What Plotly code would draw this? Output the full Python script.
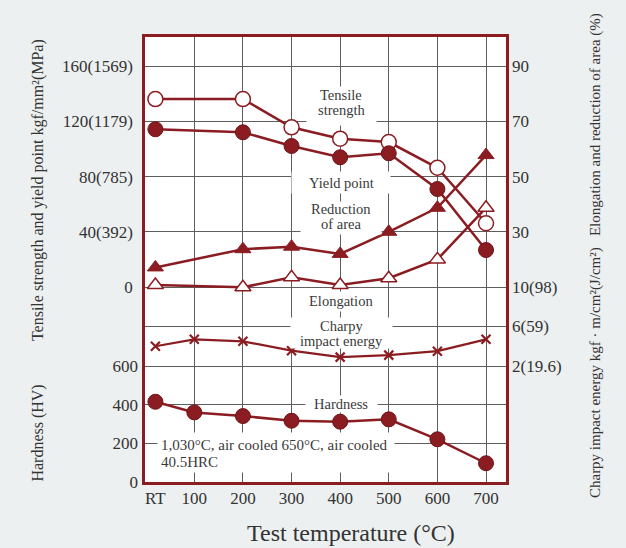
import plotly.graph_objects as go

# ---------------- data ----------------
temps_tensile = [20, 200, 300, 400, 500, 600, 700]          # RT = 20 C
temps_all = [20, 100, 200, 300, 400, 500, 600, 700]
temp_grid = [100, 200, 300, 400, 500, 600, 700]
temp_labels = ["RT", "100", "200", "300", "400", "500", "600", "700"]

tensile_strength = [136.2, 136.2, 115.7, 107.5, 105.0, 86.4, 46.2]   # kgf/mm2
yield_point = [114.3, 112.1, 102.2, 94.0, 96.9, 71.0, 26.8]         # kgf/mm2
reduction_of_area = [17.1, 23.7, 24.6, 22.0, 30.0, 38.7, 57.8]      # %
elongation = [10.7, 9.9, 13.5, 10.7, 13.2, 20.0, 38.7]              # %
charpy = [4.0, 4.7, 4.5, 3.55, 2.9, 3.1, 3.5, 4.7]                  # kgf*m/cm2
hardness = [415, 360, 341, 317, 312, 324, 221, 97]                  # HV

strength_ticks = [0, 40, 80, 120, 160]
strength_ticktext = ["0", "40(392)", "80(785)", "120(1179)", "160(1569)"]
pct_ticks = [30, 50, 70, 90]
hv_ticks = [0, 200, 400, 600]
charpy_ticks = [2, 6, 10]
charpy_ticktext = ["2(19.6)", "6(59)", "10(98)"]

# ---------------- styling ----------------
RED = "#8b1d22"
GRID = "#5e5e5e"
TXT = "#333333"
FONT = "Liberation Serif"

fig = go.Figure()

line_style = dict(color=RED, width=2.5)

fig.add_trace(go.Scatter(x=temps_tensile, y=tensile_strength, xaxis="x", yaxis="y",
                         mode="lines+markers", line=line_style,
                         marker=dict(symbol="circle", size=15, color="white",
                                     line=dict(color=RED, width=1.5)),
                         showlegend=False))
fig.add_trace(go.Scatter(x=temps_tensile, y=yield_point, xaxis="x", yaxis="y",
                         mode="lines+markers", line=line_style,
                         marker=dict(symbol="circle", size=15, color=RED,
                                     line=dict(color="#6e1418", width=1)),
                         showlegend=False))
fig.add_trace(go.Scatter(x=temps_tensile, y=reduction_of_area, xaxis="x", yaxis="y2",
                         mode="lines+markers", line=line_style,
                         marker=dict(symbol="triangle-up", size=14, color=RED,
                                     line=dict(color=RED, width=1)),
                         showlegend=False))
fig.add_trace(go.Scatter(x=temps_tensile, y=elongation, xaxis="x", yaxis="y2",
                         mode="lines+markers", line=line_style,
                         marker=dict(symbol="triangle-up", size=14, color="white",
                                     line=dict(color=RED, width=1.5)),
                         showlegend=False))
fig.add_trace(go.Scatter(x=temps_all, y=charpy, xaxis="x2", yaxis="y4",
                         mode="lines+markers", line=dict(color=RED, width=2.2),
                         marker=dict(symbol="x-thin", size=9,
                                     line=dict(color=RED, width=2.2)),
                         showlegend=False))
fig.add_trace(go.Scatter(x=temps_all, y=hardness, xaxis="x2", yaxis="y3",
                         mode="lines+markers", line=line_style,
                         marker=dict(symbol="circle", size=15, color=RED,
                                     line=dict(color="#6e1418", width=1)),
                         showlegend=False))

XR = [-1.4, 741.1]
tickfont = dict(family=FONT, size=17, color=TXT)

fig.update_layout(
    width=626, height=548,
    margin=dict(l=145, r=120, t=37, b=66),
    paper_bgcolor="#edf0f0",
    plot_bgcolor="white",
    font=dict(family=FONT, color=TXT),
    xaxis=dict(range=XR, tickvals=temp_grid, showticklabels=False, ticks="",
               showgrid=True, gridcolor=GRID, gridwidth=1, zeroline=False,
               showline=True, mirror=True, linecolor=RED, linewidth=2.5),
    xaxis2=dict(range=XR, overlaying="x", anchor="y", side="bottom",
                tickvals=temps_all, ticktext=temp_labels, tickfont=tickfont,
                showgrid=False, zeroline=False, showline=False, ticks="",
                ticklabelstandoff=4),
    yaxis=dict(range=[-141.3, 181.16], tickvals=strength_ticks, ticktext=strength_ticktext,
               tickfont=tickfont, showgrid=True, gridcolor=GRID, gridwidth=1,
               zeroline=False, showline=True, mirror=True, linecolor=RED, linewidth=2.5,
               ticks="", ticklabelstandoff=6),
    yaxis2=dict(range=[-60.65, 100.58], overlaying="y", side="right", anchor="x",
                tickvals=pct_ticks, tickfont=tickfont, showgrid=False, zeroline=False,
                showline=False, ticks="", ticklabelstandoff=5),
    yaxis3=dict(range=[0, 2301.7], overlaying="y", side="left", anchor="x",
                tickvals=hv_ticks, tickfont=tickfont, showgrid=True, gridcolor=GRID,
                gridwidth=1, zeroline=False, showline=False, ticks="",
                ticklabelstandoff=6),
    yaxis4=dict(range=[-9.747, 35.316], overlaying="y", side="right", anchor="x",
                tickvals=charpy_ticks, ticktext=charpy_ticktext, tickfont=tickfont,
                showgrid=True, gridcolor=GRID, gridwidth=1, zeroline=False,
                showline=False, ticks="", ticklabelstandoff=5),
)

# ---------------- white boxes that break the grid behind the labels ----------------
boxes = [
    # x, y, yref, width, height, anchor
    (402.7, 131.2, "y", 69, 38, "center"),     # Tensile strength
    (402.7, 75.7, "y", 98, 21, "center"),      # Yield point
    (402.7, 50.0, "y", 80, 32, "center"),      # Reduction of area
    (402.7, -10.5, "y", 70, 19, "center"),     # Elongation
    (402.7, -33.3, "y", 101, 30, "center"),    # Charpy impact energy
    (402.7, 403.4, "y3", 71, 16, "center"),    # Hardness
    (23.2, 152.6, "y3", 236, 39, "left"),      # heat treatment note
]
for x, y, yref, w, h, anc in boxes:
    fig.add_annotation(text="\u00a0", x=x, y=y, xref="x", yref=yref, showarrow=False,
                       xanchor=anc, yanchor="middle", width=w, height=h,
                       bgcolor="white", borderpad=0, font=dict(size=4))

# ---------------- label texts ----------------
lab_font = dict(family=FONT, size=14.5, color="#3a3a3a")
note_font = dict(family=FONT, size=15, color="#3a3a3a")
texts = [
    ("Tensile", 402.7, 139.1, "y", "center"),
    ("strength", 402.7, 128.3, "y", "center"),
    ("Yield point", 402.7, 75.6, "y", "center"),
    ("Reduction", 402.7, 56.2, "y", "center"),
    ("of area", 402.7, 45.3, "y", "center"),
    ("Elongation", 402.7, -10.5, "y", "center"),
    ("Charpy", 402.7, -28.3, "y", "center"),
    ("impact energy", 402.7, -39.1, "y", "center"),
    ("Hardness", 402.7, 403.4, "y3", "center"),
    ("1,030°C, air cooled 650°C, air cooled", 29.4, 191.4, "y3", "left"),
    ("40.5HRC", 29.4, 106, "y3", "left"),
]
for text, x, y, yref, anc in texts:
    fig.add_annotation(text=text, x=x, y=y, xref="x", yref=yref, showarrow=False,
                       xanchor=anc, yanchor="middle", borderpad=0,
                       font=lab_font if anc == "center" else note_font)

# ---------------- axis titles ----------------
title_font = dict(family=FONT, size=16, color=TXT)
fig.add_annotation(text="Tensile strength and yield point kgf/mm²(MPa)",
                   x=-0.2964, y=0.656, xref="paper", yref="paper", textangle=-90,
                   showarrow=False, xanchor="center", yanchor="middle", font=title_font)
fig.add_annotation(text="Hardness (HV)",
                   x=-0.2964, y=0.111, xref="paper", yref="paper", textangle=-90,
                   showarrow=False, xanchor="center", yanchor="middle", font=title_font)
fig.add_annotation(text="Charpy impact energy kgf · m/cm²(J/cm²)\u00a0\u00a0 Elongation and reduction of area (%)",
                   x=1.2465, y=0.51, xref="paper", yref="paper", textangle=-90,
                   showarrow=False, xanchor="center", yanchor="middle",
                   font=dict(family=FONT, size=15, color=TXT))
fig.add_annotation(text="Test temperature (°C)",
                   x=0.571, y=-0.1146, xref="paper", yref="paper",
                   showarrow=False, xanchor="center", yanchor="middle",
                   font=dict(family=FONT, size=24, color=TXT))

fig.write_html("out.html")
